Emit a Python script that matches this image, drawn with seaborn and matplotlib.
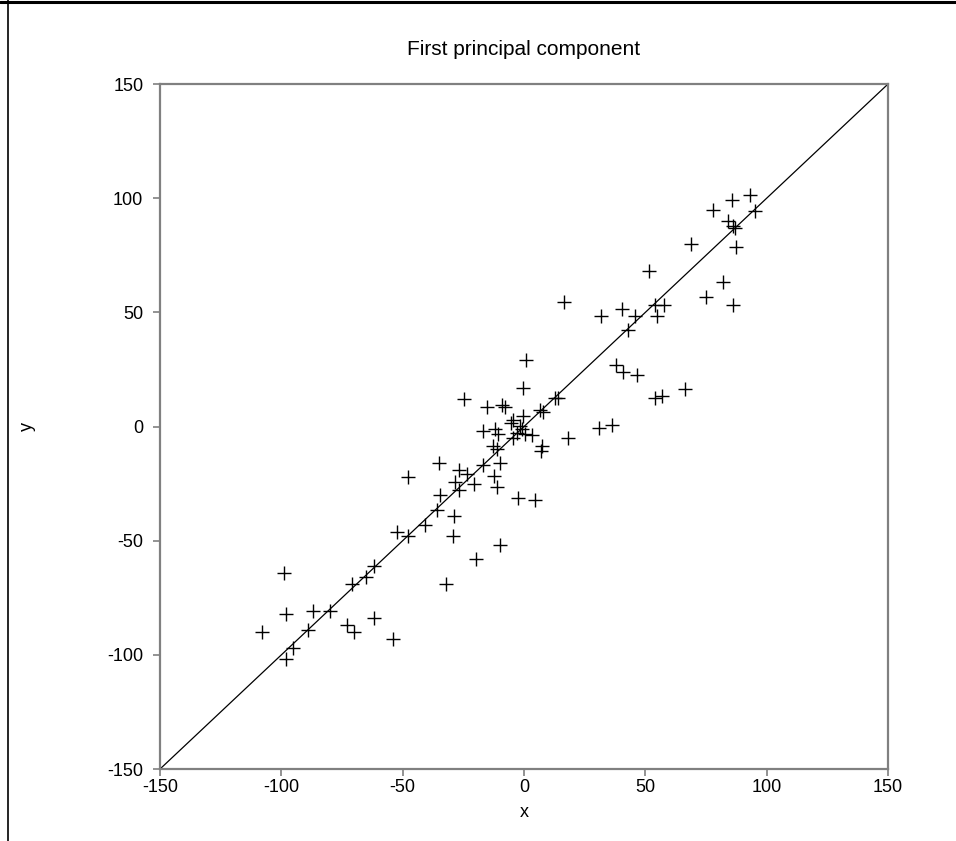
import matplotlib
matplotlib.use("Agg")
import matplotlib.pyplot as plt
from matplotlib.lines import Line2D
import seaborn as sns
import pandas as pd

x_vals = [
    -108, -99, -98, -98, -95, -89, -87, -80, -73, -70, -71, -65, -62, -62, -54,
    -52.5, -48, -48, -41, -36, -35, -34.6, -32, -29.4, -29, -28.6, -27, -27, -23.6,
    -20.6, -24.7, -19.8, -17, -17, -15.4, -12.4, -11, -10, -10, -9, -8, -12, -10.6,
    -12.6, -11.2, -4.4, -5.3, -0.3, -1.6, -0.9, -3, 0.4, 3.2, -4.4, -2.6, 4.5, 0.7,
    -0.3, 6.5, 8, 7.5, 6.9, 12.8, 14.1, 18.3, 16.5,
    31.6, 31, 36.1, 37.8, 40.7, 40.3, 43, 45.7, 46.4, 51.5, 54, 57.7, 55, 54.1, 56.7,
    66.3, 68.7, 74.9, 78, 82.1, 84.2, 85.6, 86, 86.2, 86.9, 87.4, 93.1, 95.2,
]
y_vals = [
    -90, -64, -82, -102, -97, -89, -81, -81, -87, -90, -69, -66, -61, -84, -93,
    -46, -48, -22, -43, -36.5, -16, -30, -69, -48, -39, -24.4, -19, -28, -21,
    -25, 12, -58, -17, -2, 8.6, -21.5, -26.6, -52, -16, 9.5, 8.5, -1, -3.4,
    -8.7, -10, 2.9, 1.5, 4.4, 0.2, -1.2, -2.9, -3.4, -3.8, -5.1, -31.4, -32, 29,
    17, 7.2, 6.2, -8.7, -10.6, 12.7, 12.4, -5, 54.5,
    48.5, -0.7, 0.7, 27, 24, 51.4, 42.3, 48.5, 22.6, 68.3, 53, 53.3, 48.2, 12.7, 13.4,
    16.4, 79.8, 56.9, 94.9, 63.5, 90.1, 99, 53, 88, 86.9, 78.8, 101.2, 94.6,
]
line_x = [-150, 150]
line_y = [-150, 150]
ticks = [-150, -100, -50, 0, 50, 100, 150]

sns.set_theme(style="white")
plt.rcParams['font.family'] = ['Liberation Sans', 'DejaVu Sans']
plt.rcParams['text.color'] = 'black'
plt.rcParams['axes.labelcolor'] = 'black'

fig = plt.figure(figsize=(9.56, 8.41), dpi=100)
ax = fig.add_axes([0.1674, 0.0856, 0.9289 - 0.1674, 0.9001 - 0.0856])

df = pd.DataFrame({"x": x_vals, "y": y_vals})
sns.lineplot(x=line_x, y=line_y, ax=ax, color="black", linewidth=0.9)
sns.scatterplot(data=df, x="x", y="y", ax=ax, marker="+", s=110,
                color="black", linewidth=1.0)

ax.set_xlim(-150, 150)
ax.set_ylim(-150, 150)
ax.set_xticks(ticks)
ax.set_yticks(ticks)
ax.set_xticklabels([str(t) for t in ticks], fontsize=13)
ax.set_yticklabels([str(t) for t in ticks], fontsize=13)
for s in ax.spines.values():
    s.set_color("#808080")
    s.set_linewidth(1.6)
ax.tick_params(axis="y", direction="out", length=5, width=1.2,
               color="#808080", labelcolor="black", pad=7, left=True)
ax.tick_params(axis="x", direction="out", length=5, width=1.2,
               color="#808080", labelcolor="black", pad=2, bottom=True)
ax.set_xlabel("x", fontsize=13, labelpad=6, color="black")
ax.set_ylabel("y", fontsize=13, color="black")
ax.yaxis.set_label_coords(-0.17, 0.5)
ax.set_title("First principal component", fontsize=15, pad=21, color="black")

fig.add_artist(Line2D([0, 1], [0.998, 0.998], transform=fig.transFigure,
                      color="black", linewidth=2.2))
fig.add_artist(Line2D([0.0080, 0.0080], [0, 1], transform=fig.transFigure,
                      color="black", linewidth=1.2))

fig.savefig("out.png", dpi=100)
